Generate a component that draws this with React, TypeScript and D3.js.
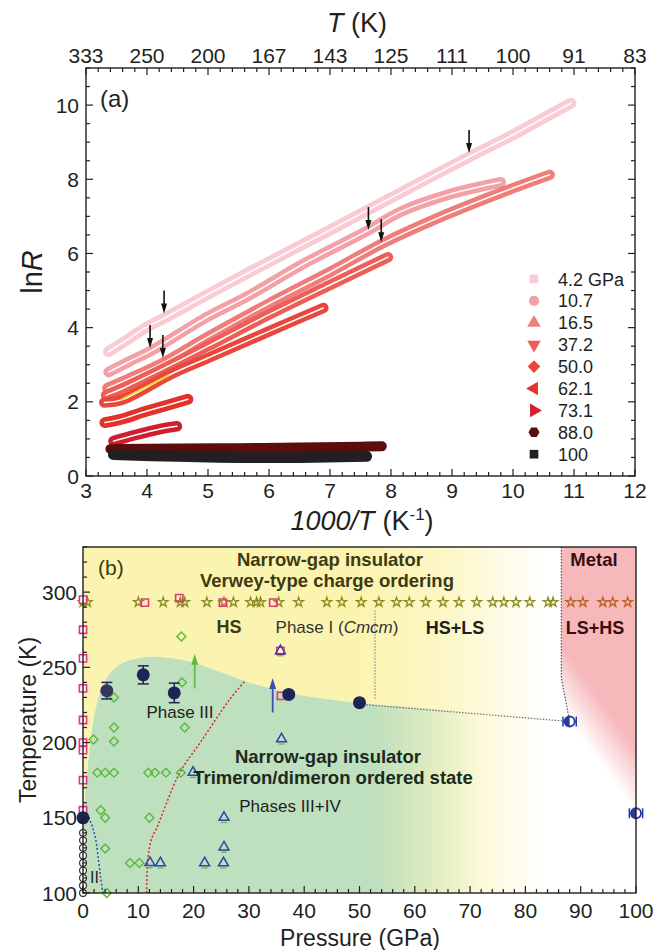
import React from 'react';
import * as d3 from 'd3';

// ---------- Panel (a) data ----------
const invTTicks = [3, 4, 5, 6, 7, 8, 9, 10, 11, 12];
const topTickLabels = ['333', '250', '200', '167', '143', '125', '111', '100', '91', '83'];
const lnRTicks = [0, 2, 4, 6, 8, 10];

const pressureLabels = ['4.2 GPa', '10.7', '16.5', '37.2', '50.0', '62.1', '73.1', '88.0', '100'];
const pressureColors = ['#f9cbd3', '#f3a0a6', '#ef7e7b', '#ec5e57', '#e9463e', '#e4322b', '#cf1e2e', '#5c0d0d', '#231f20'];
const pressureSymbols = ['square', 'circle', 'triangleUp', 'triangleDown', 'diamond', 'triangleLeft', 'triangleRight', 'hexagon', 'square'];

const curve4p2 = [[3.37, 3.35], [3.7, 3.7], [4.0, 4.02], [4.3, 4.27], [5.0, 4.9], [6.0, 5.77], [7.0, 6.63], [8.0, 7.5], [9.3, 8.62], [10.0, 9.2], [10.5, 9.65], [10.95, 10.05]];
const curve10p7 = [[3.37, 2.8], [3.7, 3.08], [4.05, 3.36], [5.0, 4.3], [5.63, 4.83], [6.6, 5.75], [7.6, 6.6], [8.15, 7.12], [8.97, 7.6], [9.8, 7.92]];
const curve16p5 = [[3.35, 2.37], [3.7, 2.62], [4.26, 3.05], [5.0, 3.75], [6.0, 4.65], [7.0, 5.5], [7.87, 6.28], [8.69, 6.9], [9.79, 7.63], [10.6, 8.12]];
const curve37p2 = [[3.33, 2.18], [3.6, 2.36], [4.3, 2.92], [5.0, 3.5], [6.0, 4.35], [7.0, 5.15], [7.95, 5.9]];
const curve50p0 = [[3.3, 1.98], [3.6, 2.06], [4.4, 2.75], [5.0, 3.18], [6.0, 3.9], [6.89, 4.53]];
const curve62p1 = [[3.31, 1.44], [3.55, 1.52], [4.0, 1.75], [4.67, 2.07]];
const curve73p1 = [[3.45, 0.94], [3.8, 1.1], [4.2, 1.26], [4.49, 1.34]];
const curve88p0 = [[3.4, 0.73], [4.5, 0.74], [5.5, 0.75], [6.5, 0.77], [7.5, 0.79], [7.85, 0.8]];
const curve100 = [[3.45, 0.58], [4.5, 0.53], [5.5, 0.5], [6.5, 0.5], [7.6, 0.53]];
const curvesA = [curve4p2, curve10p7, curve16p5, curve37p2, curve50p0, curve62p1, curve73p1, curve88p0, curve100];
const yellowFit = [[3.56, 2.05], [4.36, 2.72]];
const arrowTipsA = [[4.28, 4.38], [4.05, 3.45], [4.26, 3.18], [7.63, 6.63], [7.84, 6.3], [9.28, 8.71]];

// ---------- Panel (b) data ----------
const pTicks = [0, 10, 20, 30, 40, 50, 60, 70, 80, 90, 100];
const tTicks = [100, 150, 200, 250, 300];

const greenTop = [[0, 152], [0.4, 165], [0.9, 185], [1.5, 205], [2.4, 224], [3.5, 237], [5, 246.5], [7, 252.5], [10, 256], [13, 257], [16, 256], [20, 253], [25, 246.5], [30, 240], [35, 235], [40, 231], [45, 228.5], [50, 226.3], [60, 223.3], [75, 219]];
const pinkEdge = [[86.5, 330], [86.5, 243], [88, 214], [91, 198], [94, 180], [97, 166], [100, 153], [100, 330]];

const openCircleT = [100, 105, 110, 115, 120, 125, 130, 135, 140];
const squaresAxisT = [295, 275, 256, 236, 215, 200, 195, 175, 155];
const squaresOther = [[11.2, 293], [17.4, 296], [25.3, 293], [34.4, 293], [35.7, 261], [35.8, 231]];
const starsOlive = [0, 0.8, 10, 14.5, 17.6, 18.4, 22.4, 25.5, 27.2, 30.3, 31.4, 32.1, 35.4, 39, 44.1, 46.8, 50.3, 53.5, 56.7, 59, 62, 65.1, 68, 71.2, 74.1, 76.1, 78.3, 80.8, 84.1, 85];
const starsOrange = [88.2, 90.4, 94, 95.8, 98.5];
const starT = 293.3;
const diamonds = [[17.8, 270.5], [17.9, 240], [5.6, 230], [18.4, 210], [5.6, 210], [1.9, 202], [5.6, 200.7], [2.6, 180], [4, 180], [5.6, 180], [11.8, 180], [13, 180], [15, 180], [17.7, 180], [3.2, 155], [4, 150], [12, 150], [4, 129.5], [8.5, 120], [10.2, 120], [4.3, 100]];
const triangles = [[35.9, 202.4], [19.9, 180.2], [25.5, 150.2], [25.5, 130.5], [12.1, 120.2], [14, 120], [22, 120], [25.4, 120], [35.7, 261]];
const navyPts = [[0, 150, 0], [4.3, 234.5, 5.5], [10.9, 245, 6], [16.5, 233, 6.5], [37.2, 232, 2], [50, 226.5, 2]];
const bluePts = [[88, 214, 1.2], [100, 153, 1.2]];
const redBoundary = [[11.5, 100], [11.6, 115], [11.9, 128], [12.5, 137], [13.3, 143], [17.5, 180], [21.2, 200], [26.6, 229], [29.3, 241]];
const blueBoundary = [[0.3, 155], [1.3, 148], [2.2, 137.5], [2.8, 122], [3.2, 110], [3.6, 100]];
const grayVertical = [[52.8, 288], [52.8, 229]];
const grayLower = [[50.7, 225.3], [88, 214]];
const grayPink = [[86.5, 330], [86.5, 243], [88, 214]];
const greenArrow = [20.2, 236, 259];
const blueArrow = [34.3, 220, 243];

const FONT = 'Liberation Sans, Arial, Helvetica, sans-serif';

function symbolPath(name: string, size: number): { d: string; rot: number } {
  const g = (t: any) => (d3.symbol().type(t).size(size)() as string);
  switch (name) {
    case 'square': return { d: g(d3.symbolSquare), rot: 0 };
    case 'circle': return { d: g(d3.symbolCircle), rot: 0 };
    case 'triangleUp': return { d: g(d3.symbolTriangle), rot: 0 };
    case 'triangleDown': return { d: g(d3.symbolTriangle), rot: 180 };
    case 'triangleLeft': return { d: g(d3.symbolTriangle), rot: -90 };
    case 'triangleRight': return { d: g(d3.symbolTriangle), rot: 90 };
    case 'diamond': return { d: g(d3.symbolSquare), rot: 45 };
    case 'hexagon': {
      const r = Math.sqrt(size / 2.6);
      const pts = d3.range(6).map((i) => [r * Math.cos((Math.PI / 3) * i), r * Math.sin((Math.PI / 3) * i)] as [number, number]);
      return { d: (d3.line()(pts) as string) + 'Z', rot: 0 };
    }
  }
  return { d: g(d3.symbolCircle), rot: 0 };
}

export default function App() {
  const W = 656, H = 950;
  const xa = d3.scaleLinear().domain([3, 12]).range([86, 635]);
  const ya = d3.scaleLinear().domain([0, 11]).range([476, 68]);
  const xb = d3.scaleLinear().domain([0, 100]).range([83, 636]);
  const yb = d3.scaleLinear().domain([100, 330]).range([893, 547]);

  const lineA = d3.line<number[]>().x((d) => xa(d[0])).y((d) => ya(d[1])).curve(d3.curveCatmullRom);
  const lineB = d3.line<number[]>().x((d) => xb(d[0])).y((d) => yb(d[1]));
  const lineBSmooth = d3.line<number[]>().x((d) => xb(d[0])).y((d) => yb(d[1])).curve(d3.curveCatmullRom);

  const [ax0, ax1] = xa.range();
  const [ay0, ay1] = ya.range();
  const [bx0, bx1] = xb.range();
  const [by0, by1] = yb.range();

  const minorX = d3.range(3, 12.001, 0.2);
  const minorY = d3.range(0, 11.001, 0.5);
  const minorP = d3.range(0, 100.001, 2);
  const minorT = d3.range(100, 330.001, 10);

  const bandWidths = [11, 10.5, 10.5, 10.5, 10.5, 11, 10.5, 10, 11];
  const hasInner = [true, true, true, true, true, true, true, false, false];

  const greenPath = (lineBSmooth(greenTop) as string) + `L${xb(75)},${yb(100)}L${xb(0)},${yb(100)}Z`;
  const pinkPath = (lineB(pinkEdge) as string) + 'Z';

  const p1 = [xb(88), yb(214)], p2 = [xb(100), yb(153)];
  const dx = p2[0] - p1[0], dy = p2[1] - p1[1];
  const len = Math.hypot(dx, dy);
  const nx = dy / len, ny = -dx / len;
  const mid = [(p1[0] + p2[0]) / 2, (p1[1] + p2[1]) / 2];
  const gx1 = mid[0], gy1 = mid[1], gx2 = mid[0] + nx * 38, gy2 = mid[1] + ny * 38;

  const squareSym = d3.symbol().type(d3.symbolSquare).size(52)() as string;
  const starSym = d3.symbol().type(d3.symbolStar).size(28)() as string;
  const diamondSym = d3.symbol().type(d3.symbolSquare).size(40)() as string;
  const triSym = d3.symbol().type(d3.symbolTriangle).size(42)() as string;

  const arrowHead = (x: number, y: number, color: string, dir: number, w = 7, h = 9) => {
    const pts: [number, number][] = [[x - w / 2, y - dir * h], [x + w / 2, y - dir * h], [x, y]];
    return <path d={(d3.line()(pts) as string) + 'Z'} fill={color} />;
  };

  return (
    <svg width={W} height={H} style={{ position: 'absolute', left: 0, top: 0, background: '#fff' }} fontFamily={FONT}>
      <defs>
        <linearGradient id="yellowGrad" gradientUnits="userSpaceOnUse" x1={xb(50)} y1={0} x2={xb(84)} y2={0}>
          <stop offset="0" stopColor="#fbf4b0" />
          <stop offset="0.45" stopColor="#fcf7c6" />
          <stop offset="1" stopColor="#ffffff" />
        </linearGradient>
        <linearGradient id="greenGrad" gradientUnits="userSpaceOnUse" x1={xb(53)} y1={0} x2={xb(72)} y2={0}>
          <stop offset="0" stopColor="#bfe0bf" stopOpacity="1" />
          <stop offset="1" stopColor="#bfe0bf" stopOpacity="0" />
        </linearGradient>
        <linearGradient id="pinkGrad" gradientUnits="userSpaceOnUse" x1={gx1} y1={gy1} x2={gx2} y2={gy2}>
          <stop offset="0" stopColor="#f6b8bb" stopOpacity="0" />
          <stop offset="1" stopColor="#f6b8bb" stopOpacity="1" />
        </linearGradient>
        <clipPath id="clipB"><rect x={bx0} y={by1} width={bx1 - bx0} height={by0 - by1} /></clipPath>
        <clipPath id="clipA"><rect x={ax0} y={ay1} width={ax1 - ax0} height={ay0 - ay1} /></clipPath>
      </defs>

      {/* ================= Panel (a) ================= */}
      <g clipPath="url(#clipA)">
        {curvesA.map((c, i) => (
          <g key={'c' + i}>
            <path d={lineA(c) as string} fill="none" stroke={pressureColors[i]} strokeWidth={bandWidths[i]} strokeLinejoin="round" strokeLinecap="round" />
            {hasInner[i] && <path d={lineA(c) as string} fill="none" stroke="#ffffff" strokeWidth={1.5} strokeLinecap="round" />}
          </g>
        ))}
        <path d={lineA(yellowFit) as string} stroke="#f2dc1c" strokeWidth={1.8} fill="none" />
        {arrowTipsA.map((a, i) => {
          const x = xa(a[0]), y = ya(a[1]);
          return (
            <g key={'aa' + i}>
              <line x1={x} x2={x} y1={y - 23} y2={y - 7} stroke="#111" strokeWidth={1.6} />
              {arrowHead(x, y, '#111', 1, 6, 10)}
            </g>
          );
        })}
      </g>

      <rect x={ax0} y={ay1} width={ax1 - ax0} height={ay0 - ay1} fill="none" stroke="#231f20" strokeWidth={1.4} />
      {minorX.map((v, i) => {
        const major = Math.abs(v - Math.round(v)) < 1e-6;
        const l = major ? 7 : 4;
        return (
          <g key={'mx' + i}>
            <line x1={xa(v)} x2={xa(v)} y1={ay0} y2={ay0 - l} stroke="#231f20" strokeWidth={1.2} />
            <line x1={xa(v)} x2={xa(v)} y1={ay1} y2={ay1 + l} stroke="#231f20" strokeWidth={1.2} />
          </g>
        );
      })}
      {minorY.map((v, i) => {
        const major = Math.abs(v / 2 - Math.round(v / 2)) < 1e-6;
        const l = major ? 7 : 4;
        return (
          <g key={'my' + i}>
            <line x1={ax0} x2={ax0 + l} y1={ya(v)} y2={ya(v)} stroke="#231f20" strokeWidth={1.2} />
            <line x1={ax1} x2={ax1 - l} y1={ya(v)} y2={ya(v)} stroke="#231f20" strokeWidth={1.2} />
          </g>
        );
      })}
      {invTTicks.map((v, i) => (
        <text key={'bx' + i} x={xa(v)} y={498} fontSize={21} textAnchor="middle" fill="#231f20">{v}</text>
      ))}
      {invTTicks.map((v, i) => (
        <text key={'tx' + i} x={xa(v)} y={63} fontSize={21} textAnchor="middle" fill="#231f20">{topTickLabels[i]}</text>
      ))}
      {lnRTicks.map((v, i) => (
        <text key={'ly' + i} x={79} y={ya(v) + 7.5} fontSize={21} textAnchor="end" fill="#231f20">{v}</text>
      ))}
      <text x={357} y={32} fontSize={27} textAnchor="middle" fill="#231f20">
        <tspan fontStyle="italic">T</tspan><tspan> (K)</tspan>
      </text>
      <text x={362} y={530} fontSize={27} textAnchor="middle" fill="#231f20">
        <tspan fontStyle="italic">1000/T</tspan><tspan dx={8}>(K</tspan><tspan dy={-10} fontSize={17}>-1</tspan><tspan dy={10}>)</tspan>
      </text>
      <text transform={`translate(42,${(ay0 + ay1) / 2}) rotate(-90)`} fontSize={29} textAnchor="middle" fill="#231f20">
        <tspan>ln</tspan><tspan fontStyle="italic">R</tspan>
      </text>
      <text x={100} y={107} fontSize={24} fill="#231f20">(a)</text>

      {pressureLabels.map((lab, i) => {
        const y = 279 + i * 21.9;
        const s = symbolPath(pressureSymbols[i], pressureSymbols[i] === 'square' ? 75 : 80);
        return (
          <g key={'lg' + i}>
            <path d={s.d} transform={`translate(534,${y}) rotate(${s.rot})`} fill={pressureColors[i]} />
            <text x={558} y={y + 6.5} fontSize={18} fill="#231f20">{lab}</text>
          </g>
        );
      })}

      {/* ================= Panel (b) ================= */}
      <g clipPath="url(#clipB)">
        <rect x={xb(0)} y={by1} width={xb(86.5) - xb(0)} height={by0 - by1} fill="url(#yellowGrad)" />
        <path d={greenPath} fill="url(#greenGrad)" />
        <path d={pinkPath} fill="url(#pinkGrad)" />

        <path d={lineB(grayVertical) as string} fill="none" stroke="#8a8a8a" strokeWidth={1.2} strokeDasharray="1.5,1.5" />
        <path d={lineB(grayLower) as string} fill="none" stroke="#6f6f6f" strokeWidth={1.2} strokeDasharray="1.5,1.5" />
        <path d={lineB(grayPink) as string} fill="none" stroke="#555" strokeWidth={1.2} strokeDasharray="1.5,1.5" />
        <path d={lineBSmooth(redBoundary) as string} fill="none" stroke="#d42a2a" strokeWidth={1.5} strokeDasharray="2,2" />
        <path d={lineBSmooth(blueBoundary) as string} fill="none" stroke="#2d4fb0" strokeWidth={1.5} strokeDasharray="2,2" />
      </g>

      {/* markers (not clipped) */}
      {starsOlive.map((p, i) => (
        <path key={'so' + i} d={starSym} transform={`translate(${xb(p)},${yb(starT)})`} fill="none" stroke="#8e8e26" strokeWidth={1.3} />
      ))}
      {starsOrange.map((p, i) => (
        <path key={'sr' + i} d={starSym} transform={`translate(${xb(p)},${yb(starT)})`} fill="none" stroke="#b8662a" strokeWidth={1.3} />
      ))}
      {squaresAxisT.map((t, i) => (
        <path key={'sq' + i} d={squareSym} transform={`translate(${xb(0)},${yb(t)})`} fill="#fff" stroke="#e8337f" strokeWidth={1.6} />
      ))}
      {squaresOther.map((d, i) => (
        <path key={'sqo' + i} d={squareSym} transform={`translate(${xb(d[0])},${yb(d[1])})`} fill="none" stroke="#e8337f" strokeWidth={1.6} />
      ))}
      {diamonds.map((d, i) => (
        <path key={'dm' + i} d={diamondSym} transform={`translate(${xb(d[0])},${yb(d[1])}) rotate(45)`} fill="none" stroke="#5cb83c" strokeWidth={1.4} />
      ))}
      {triangles.map((d, i) => (
        <g key={'tr' + i} transform={`translate(${xb(d[0])},${yb(d[1])})`}>
          <line x1={-3} x2={3} y1={5} y2={5} stroke="#5cb83c" strokeWidth={1.2} />
          <path d={triSym} fill="none" stroke="#2b45a8" strokeWidth={1.5} />
        </g>
      ))}
      {openCircleT.map((t, i) => (
        <circle key={'oc' + i} cx={xb(0)} cy={yb(t)} r={3.4} fill="#fff" stroke="#222" strokeWidth={1.1} />
      ))}
      {navyPts.map((d, i) => {
        const x = xb(d[0]), y = yb(d[1]);
        return (
          <g key={'nv' + i}>
            {d[2] > 0 && (
              <g stroke="#1f2456" strokeWidth={1.5}>
                <line x1={x} x2={x} y1={yb(d[1] + d[2])} y2={yb(d[1] - d[2])} />
                <line x1={x - 5.5} x2={x + 5.5} y1={yb(d[1] + d[2])} y2={yb(d[1] + d[2])} />
                <line x1={x - 5.5} x2={x + 5.5} y1={yb(d[1] - d[2])} y2={yb(d[1] - d[2])} />
              </g>
            )}
            <circle cx={x} cy={y} r={6.5} fill={i === 1 ? '#33375c' : '#1f2456'} />
          </g>
        );
      })}
      {bluePts.map((d, i) => {
        const x = xb(d[0]), y = yb(d[1]);
        const r = 5;
        return (
          <g key={'bp' + i}>
            <line x1={xb(d[0] - d[2])} x2={xb(d[0] + d[2])} y1={y} y2={y} stroke="#2838a0" strokeWidth={1.5} />
            <line x1={xb(d[0] - d[2])} x2={xb(d[0] - d[2])} y1={y - 5} y2={y + 5} stroke="#2838a0" strokeWidth={1.5} />
            <line x1={xb(d[0] + d[2])} x2={xb(d[0] + d[2])} y1={y - 5} y2={y + 5} stroke="#2838a0" strokeWidth={1.5} />
            <circle cx={x} cy={y} r={r} fill="#fff" stroke="#2838a0" strokeWidth={1.8} />
            <path d={`M${x},${y - r} A${r},${r} 0 0 0 ${x},${y + r} Z`} fill="#2838a0" />
          </g>
        );
      })}
      <line x1={xb(greenArrow[0])} x2={xb(greenArrow[0])} y1={yb(greenArrow[1])} y2={yb(greenArrow[2]) + 6} stroke="#5cbf3c" strokeWidth={1.8} />
      {arrowHead(xb(greenArrow[0]), yb(greenArrow[2]), '#5cbf3c', -1, 7, 11)}
      <line x1={xb(blueArrow[0])} x2={xb(blueArrow[0])} y1={yb(blueArrow[1])} y2={yb(blueArrow[2]) + 6} stroke="#3c4fb4" strokeWidth={1.8} />
      {arrowHead(xb(blueArrow[0]), yb(blueArrow[2]), '#3c4fb4', -1, 7, 11)}

      <text x={98} y={575} fontSize={21} fill="#3a3a14">(b)</text>
      <text x={330} y={566} fontSize={18.5} fontWeight="bold" textAnchor="middle" fill="#3d3a12">Narrow-gap insulator</text>
      <text x={327} y={587} fontSize={18.5} fontWeight="bold" textAnchor="middle" fill="#3d3a12">Verwey-type charge ordering</text>
      <text x={229} y={633} fontSize={18} fontWeight="bold" textAnchor="middle" fill="#3d3a12">HS</text>
      <text x={337} y={633} fontSize={17} textAnchor="middle" fill="#333">
        <tspan>Phase I (</tspan><tspan fontStyle="italic">Cmcm</tspan><tspan>)</tspan>
      </text>
      <text x={455} y={634} fontSize={18} fontWeight="bold" textAnchor="middle" fill="#1e1e1e">HS+LS</text>
      <text x={594} y={566} fontSize={18.5} fontWeight="bold" textAnchor="middle" fill="#3a0e0e">Metal</text>
      <text x={595} y={634} fontSize={18} fontWeight="bold" textAnchor="middle" fill="#3a0e0e">LS+HS</text>
      <text x={180} y={718} fontSize={17} textAnchor="middle" fill="#222">Phase III</text>
      <text x={328} y={763} fontSize={18.5} fontWeight="bold" textAnchor="middle" fill="#1c2a1c">Narrow-gap insulator</text>
      <text x={333} y={784} fontSize={18.5} fontWeight="bold" textAnchor="middle" fill="#1c2a1c">Trimeron/dimeron ordered state</text>
      <text x={290} y={812} fontSize={17} textAnchor="middle" fill="#222">Phases III+IV</text>
      <text x={90} y={883} fontSize={16} fill="#222">II</text>

      <rect x={bx0} y={by1} width={bx1 - bx0} height={by0 - by1} fill="none" stroke="#231f20" strokeWidth={1.4} />
      {minorP.map((v, i) => {
        const major = v % 10 === 0;
        return <line key={'mp' + i} x1={xb(v)} x2={xb(v)} y1={by0} y2={by0 - (major ? 7 : 4)} stroke="#231f20" strokeWidth={1.2} />;
      })}
      {minorT.map((v, i) => {
        const major = v % 50 === 0;
        return <line key={'mt' + i} x1={bx0} x2={bx0 + (major ? 7 : 4)} y1={yb(v)} y2={yb(v)} stroke="#231f20" strokeWidth={1.2} />;
      })}
      {pTicks.map((v, i) => (
        <text key={'pl' + i} x={xb(v)} y={918} fontSize={21} textAnchor="middle" fill="#231f20">{v}</text>
      ))}
      {tTicks.map((v, i) => (
        <text key={'tl' + i} x={77} y={yb(v) + 7.5} fontSize={21} textAnchor="end" fill="#231f20">{v}</text>
      ))}
      <text x={360} y={946} fontSize={23} textAnchor="middle" fill="#231f20">Pressure (GPa)</text>
      <text transform={`translate(36,${(by0 + by1) / 2}) rotate(-90)`} fontSize={23} textAnchor="middle" fill="#231f20">Temperature (K)</text>
    </svg>
  );
}
